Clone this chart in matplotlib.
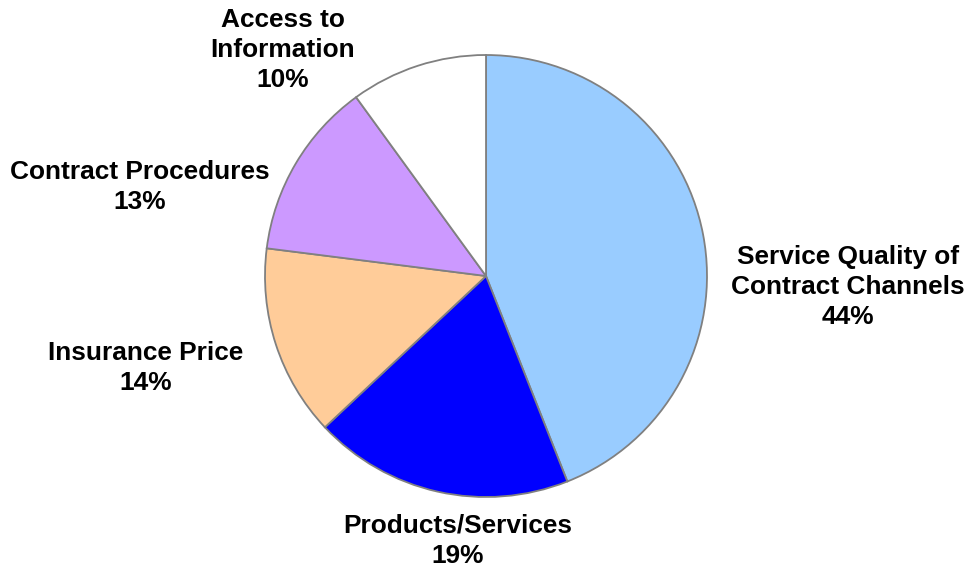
import matplotlib
matplotlib.use("Agg")
import matplotlib.pyplot as plt

labels = ["Service Quality of\nContract Channels", "Products/Services", "Insurance Price",
          "Contract Procedures", "Access to\nInformation"]
values = [44, 19, 14, 13, 10]
colors = ["#99ccff", "#0000ff", "#ffcc99", "#cc99ff", "#ffffff"]

# label centres in units of pie radius
label_pos = [(1.638, -0.05), (-0.127, -1.199), (-1.538, -0.416), (-1.566, 0.403), (-0.919, 1.023)]

plt.rcParams['font.family'] = ['Liberation Sans', 'DejaVu Sans']

fig = plt.figure(figsize=(9.67, 5.71), dpi=100)
ax = fig.add_axes([0, 0, 1, 1])
ax.pie(values, colors=colors, startangle=90, counterclock=False, radius=1,
       wedgeprops=dict(edgecolor="#808080", linewidth=1.3))
for name, v, (x, y) in zip(labels, values, label_pos):
    ax.text(x, y, "{}\n{}%".format(name, v), ha="center", va="center",
            fontsize=18.9, fontweight="bold", linespacing=1.33)

ax.set_aspect("auto")
ax.set_xlim(-486 / 221, (967 - 486) / 221)
ax.set_ylim((276 - 571) / 221, 276 / 221)
ax.axis("off")

plt.savefig("out.png", dpi=100)
